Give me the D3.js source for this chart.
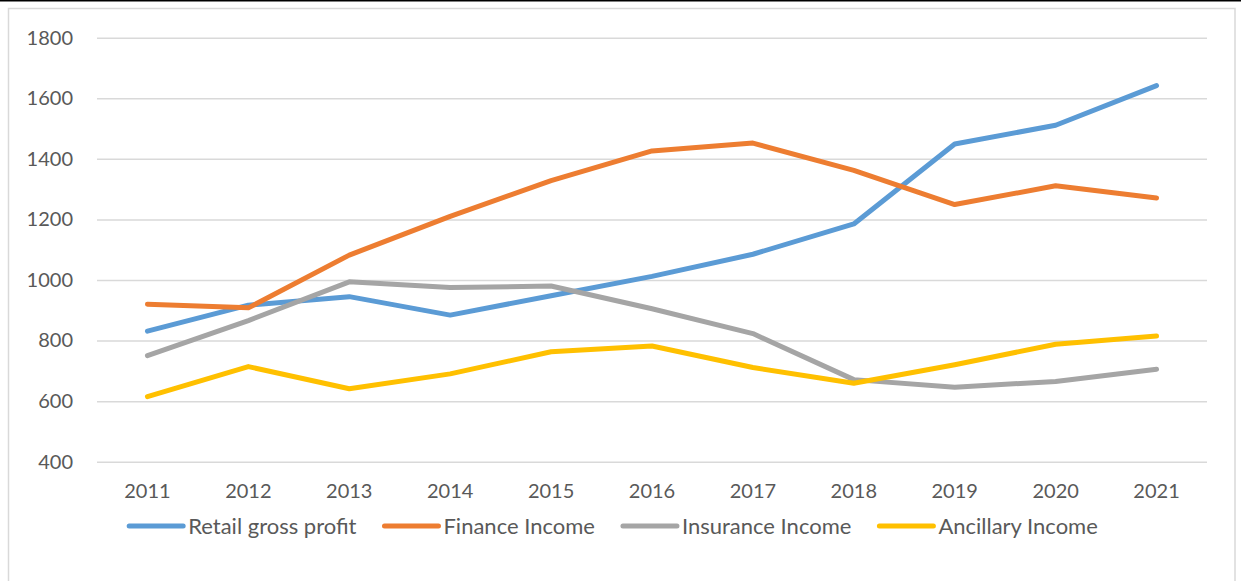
<!DOCTYPE html>
<html>
<head>
<meta charset="utf-8">
<script src="https://cdn.jsdelivr.net/npm/d3@7"></script>
<style>
  html, body { margin: 0; padding: 0; background: #fff; }
  svg { display: block; }
  text { font-family: Lato, "Open Sans", sans-serif; fill: #595959; }
</style>
</head>
<body>
<script>
// Income by stream, 2011–2021
const years = ["2011","2012","2013","2014","2015","2016","2017","2018","2019","2020","2021"];
const retailGrossProfit = [831, 917, 945, 884, 948, 1012, 1085, 1185, 1449, 1511, 1642];
const financeIncome     = [920, 908, 1082, 1210, 1328, 1426, 1452, 1362, 1249, 1311, 1271];
const insuranceIncome   = [750, 866, 994, 975, 980, 905, 823, 671, 646, 665, 705];
const ancillaryIncome   = [615, 714, 641, 690, 763, 782, 711, 659, 720, 788, 815];
const yTicks = [400, 600, 800, 1000, 1200, 1400, 1600, 1800];

const seriesNames  = ["Retail gross profit", "Finance Income", "Insurance Income", "Ancillary Income"];
const seriesColors = ["#5B9BD5", "#ED7D31", "#A5A5A5", "#FFC000"];
const seriesValues = [retailGrossProfit, financeIncome, insuranceIncome, ancillaryIncome];

const W = 1241, H = 581;
const plot = { left: 97, right: 1207, top: 37.7, bottom: 461.7 };

const svg = d3.select("body").append("svg").attr("width", W).attr("height", H);

// top rule and chart frame
svg.append("rect").attr("x", 0).attr("y", 0).attr("width", W).attr("height", 1.5).attr("fill", "#000");
svg.append("rect")
  .attr("x", 8.5).attr("y", 8.5).attr("width", 1226.5).attr("height", 600)
  .attr("fill", "none").attr("stroke", "#d9d9d9").attr("stroke-width", 1.5);

const x = d3.scaleBand().domain(years).range([plot.left, plot.right]);
const y = d3.scaleLinear().domain([400, 1800]).range([plot.bottom, plot.top]);

// gridlines + y labels
const yAxis = d3.axisLeft(y).tickValues(yTicks).tickFormat(d3.format("d"))
  .tickSize(-(plot.right - plot.left)).tickPadding(24);
const gy = svg.append("g").attr("transform", `translate(${plot.left},0)`).call(yAxis);
gy.select(".domain").remove();
gy.selectAll(".tick line").attr("stroke", "#d9d9d9").attr("stroke-width", 1.5);
gy.selectAll(".tick text").attr("font-size", 20).attr("fill", "#595959")
  .style("font-family", "Lato, 'Open Sans', sans-serif");

// x labels
const xAxis = d3.axisBottom(x).tickSize(0).tickPadding(22);
const gx = svg.append("g").attr("transform", `translate(0,${plot.bottom})`).call(xAxis);
gx.select(".domain").remove();
gx.selectAll(".tick text").attr("font-size", 20).attr("fill", "#595959")
  .style("font-family", "Lato, 'Open Sans', sans-serif");

// series lines
const line = d3.line()
  .x((d, i) => x(years[i]) + x.bandwidth() / 2)
  .y(d => y(d));

seriesValues.forEach((vals, k) => {
  svg.append("path")
    .datum(vals)
    .attr("d", line)
    .attr("fill", "none")
    .attr("stroke", seriesColors[k])
    .attr("stroke-width", 5)
    .attr("stroke-linecap", "round")
    .attr("stroke-linejoin", "round");
});

// legend
const legend = svg.append("g");
const swatch = 54, gapText = 5, gapItem = 28, legendY = 526;
let cursor = 0;
seriesNames.forEach((name, k) => {
  const g = legend.append("g").attr("transform", `translate(${cursor},0)`);
  g.append("line")
    .attr("x1", 0).attr("x2", swatch).attr("y1", legendY).attr("y2", legendY)
    .attr("stroke", seriesColors[k]).attr("stroke-width", 5).attr("stroke-linecap", "round");
  const t = g.append("text")
    .attr("x", swatch + gapText).attr("y", legendY).attr("dy", "0.35em")
    .attr("font-size", 22).text(name);
  cursor += swatch + gapText + t.node().getComputedTextLength() + gapItem;
});
const legendWidth = cursor - gapItem;
legend.attr("transform", `translate(${613.5 - legendWidth / 2},0)`);
</script>
</body>
</html>
